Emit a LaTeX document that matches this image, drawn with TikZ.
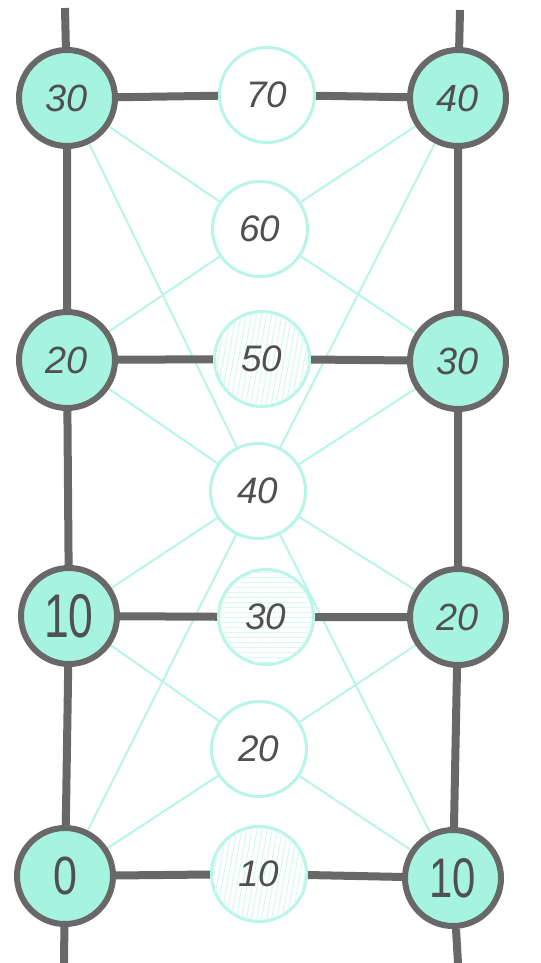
\documentclass[tikz,border=0pt]{standalone}
\usepackage{fontspec}
\setmainfont{Liberation Sans}
\usetikzlibrary{backgrounds,patterns.meta}
\definecolor{mint}{RGB}{166,243,224}
\definecolor{pale}{RGB}{184,245,232}
\definecolor{edge}{RGB}{104,104,104}
\definecolor{ink}{RGB}{80,80,80}
\tikzset{
  outer/.style={circle,draw=edge,fill=mint,line width=6bp,minimum size=96bp,inner sep=0pt,text=ink,font=\fontsize{38}{40}\selectfont\itshape},
  inner/.style={circle,draw=pale,fill=white,line width=3bp,minimum size=95bp,inner sep=0pt,text=ink,font=\fontsize{37}{40}\selectfont\itshape},
  upright/.style={font=\fontsize{#1}{#1}\selectfont},
  rail/.style={draw=edge,line width=8bp},
  link/.style={draw=pale,line width=2bp},
  hatch/.style={postaction={pattern={Lines[angle=#1,distance=5bp,line width=1bp]},pattern color=pale!60}}
}
\begin{document}
\begin{tikzpicture}[x=1bp,y=-1bp]
\useasboundingbox (0,0) rectangle (541,963);
% left column
\node[outer] (l3) at (67,98) {30}; \node[outer] (l2) at (67,360) {20};
\node[outer,upright=62] (l1) at (69,616) {\scalebox{.72}[1]{10}};
\node[outer,upright=54] (l0) at (65,876) {\scalebox{.8}[1]{0}};
% right column
\node[outer] (r4) at (458,98) {40}; \node[outer] (r3) at (458,361) {30};
\node[outer] (r2) at (458,617) {20};
\node[outer,upright=56] (r1) at (453,878) {\scalebox{.75}[1]{10}};
% middle column
\node[inner] (m7) at (267,95) {70}; \node[inner] (m6) at (260,229) {60};
\node[inner,hatch=80] (m5) at (262,359) {50}; \node[inner] (m4) at (258,491) {40};
\node[inner,hatch=0] (m3) at (266,617) {30}; \node[inner] (m2) at (259,749) {20};
\node[inner,hatch=80] (m1) at (259,874) {10};
% loose ends of the rails
\coordinate (lt) at (65,8); \coordinate (lb) at (64,963);
\coordinate (rt) at (460,10); \coordinate (rb) at (458,963);
\begin{scope}[on background layer]
\fill[white] (0,0) rectangle (541,963);
\draw[link] (l3)--(m6)--(r3); \draw[link] (r4)--(m6)--(l2);
\draw[link] (l3)--(m4)--(r1); \draw[link] (r4)--(m4)--(l0);
\draw[link] (l2)--(m4)--(r2); \draw[link] (r3)--(m4)--(l1);
\draw[link] (l1)--(m2)--(r1); \draw[link] (r2)--(m2)--(l0);
\draw[rail] (lt)--(l3)--(l2)--(l1)--(l0)--(lb);
\draw[rail] (rt)--(r4)--(r3)--(r2)--(r1)--(rb);
\draw[rail] (l3)--(m7)--(r4); \draw[rail] (l2)--(m5)--(r3);
\draw[rail] (l1)--(m3)--(r2); \draw[rail] (l0)--(m1)--(r1);
\end{scope}
\end{tikzpicture}
\end{document}
